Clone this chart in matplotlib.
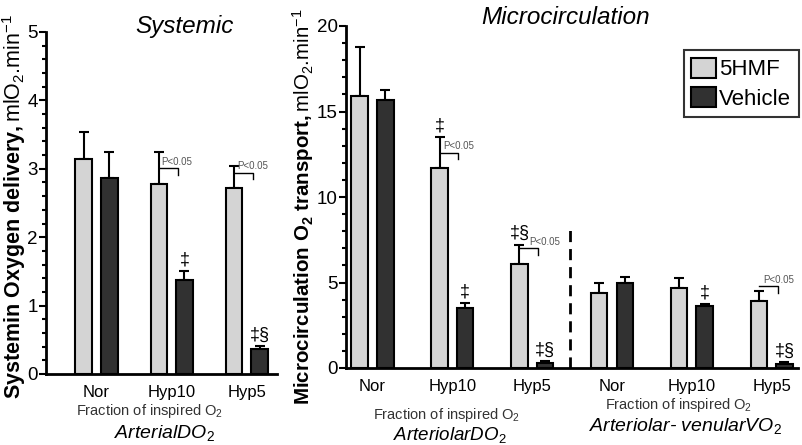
import numpy as np
import matplotlib.pyplot as plt
from matplotlib.patches import Patch
from matplotlib.ticker import MultipleLocator

plt.rcParams['font.family'] = ['Liberation Sans', 'DejaVu Sans']
plt.rcParams['mathtext.fontset'] = 'custom'
plt.rcParams['mathtext.rm'] = 'Liberation Sans'
plt.rcParams['mathtext.it'] = 'Liberation Sans:italic'
plt.rcParams['mathtext.bf'] = 'Liberation Sans:bold'

groups = ['Nor', 'Hyp10', 'Hyp5']

# systemic (arterial DO2)
sys_hmf = [3.15, 2.78, 2.72]
sys_hmf_err = [0.39, 0.47, 0.32]
sys_veh = [2.86, 1.38, 0.37]
sys_veh_err = [0.38, 0.13, 0.04]
sys_marks_hmf = ['', '', '']
sys_marks_veh = ['', '‡', '‡§']
sys_p = [1, 2]

# microcirculation (arteriolar DO2 + arteriolar-venular VO2)
mic_groups = groups + groups
mic_hmf = [15.9, 11.7, 6.1, 4.4, 4.7, 3.9]
mic_hmf_err = [2.9, 1.8, 1.1, 0.6, 0.55, 0.58]
mic_veh = [15.7, 3.5, 0.3, 5.0, 3.6, 0.25]
mic_veh_err = [0.55, 0.3, 0.1, 0.3, 0.15, 0.1]
mic_marks_hmf = ['', '‡', '‡§', '', '', '']
mic_marks_veh = ['', '‡', '‡§', '', '‡', '‡§']
mic_p = [1, 2, 5]

light = '#d4d4d4'
dark = '#313131'

fig = plt.figure(figsize=(8.02, 4.45), dpi=100)
ax1 = fig.add_axes([46/802, 71/445, 231/802, 342/445])
ax2 = fig.add_axes([346/802, 77/445, 452/802, 342/445])


def draw(ax, hmf, hmf_err, veh, veh_err, marks_h, marks_v, pidx, pshift, off, w, ytop):
    x = np.arange(len(hmf))
    ax.bar(x - off, hmf, w, color=light, edgecolor='black', linewidth=1.5, zorder=2)
    ax.bar(x + off, veh, w, color=dark, edgecolor='black', linewidth=1.5, zorder=2)
    ax.errorbar(x - off, hmf, yerr=[np.zeros(len(hmf)), hmf_err], fmt='none',
                ecolor='black', elinewidth=1.5, capsize=3.6, capthick=1.5, zorder=1)
    ax.errorbar(x + off, veh, yerr=[np.zeros(len(veh)), veh_err], fmt='none',
                ecolor='black', elinewidth=1.5, capsize=3.6, capthick=1.5, zorder=1)
    for i in range(len(hmf)):
        if marks_h[i]:
            ax.annotate(marks_h[i], (x[i] - off, hmf[i] + hmf_err[i]), xytext=(0, 8),
                        textcoords='offset points', ha='center', va='center', fontsize=13)
        if marks_v[i]:
            ax.annotate(marks_v[i], (x[i] + off, veh[i] + veh_err[i]), xytext=(0, 8),
                        textcoords='offset points', ha='center', va='center', fontsize=13)
    for i, sh in zip(pidx, pshift):
        yb = hmf[i] + 0.045 * ytop
        x0 = x[i] - off
        x1 = x[i] + off - w * 0.4
        ax.plot([x0, x1, x1], [yb, yb, yb - 0.02 * ytop], color='black', lw=1, zorder=3)
        ax.annotate('P<0.05', (x0, yb), xytext=(sh, 1), textcoords='offset points',
                    fontsize=7, color='#555555', ha='left', va='bottom')
    ax.set_xticks(x)
    ax.tick_params(axis='x', length=0, labelsize=12, pad=8)
    ax.tick_params(axis='y', which='major', direction='out', length=5, width=1.5,
                   labelsize=13.5, pad=1)
    ax.tick_params(axis='y', which='minor', direction='out', length=3, width=1.5)
    for s in ['top', 'right']:
        ax.spines[s].set_visible(False)
    for s in ['left', 'bottom']:
        ax.spines[s].set_linewidth(2)


draw(ax1, sys_hmf, sys_hmf_err, sys_veh, sys_veh_err, sys_marks_hmf, sys_marks_veh,
     sys_p, [2, 2], 0.17, 0.22, 5)
ax1.set_xticklabels(groups)
ax1.set_xlim(-0.671, 2.40)
ax1.set_ylim(0, 5)
ax1.yaxis.set_major_locator(MultipleLocator(1))
ax1.yaxis.set_minor_locator(MultipleLocator(0.2))
ax1.set_ylabel(r'$\mathbf{Systemin\ Oxygen\ delivery,}$mlO$_2$.min$^{-1}$', fontsize=15.5)
ax1.yaxis.set_label_coords(-0.08, 0.49)

draw(ax2, mic_hmf, mic_hmf_err, mic_veh, mic_veh_err, mic_marks_hmf, mic_marks_veh,
     mic_p, [3, 7, 3], 0.16, 0.207, 20)
ax2.set_xticklabels(mic_groups)
ax2.set_xlim(-0.332, 5.33)
ax2.set_ylim(0, 20)
ax2.yaxis.set_major_locator(MultipleLocator(5))
ax2.yaxis.set_minor_locator(MultipleLocator(1))
ax2.set_ylabel(r'$\mathbf{Microcirculation\ O_2\ transport,}$mlO$_2$.min$^{-1}$', fontsize=14.8)
ax2.yaxis.set_label_coords(-0.066, 0.47)
ax2.axvline(2.475, ymin=0, ymax=0.41, color='black', lw=2, ls=(0, (4, 2.5)))

# group captions
t1 = ax1.get_xaxis_transform()
ax1.text(0.71, -0.108, 'Fraction of inspired O$_2$', transform=t1, ha='center', va='center',
         fontsize=10.5, color='#333333')
ax1.text(0.91, -0.172, 'ArterialDO$_2$', style='italic', transform=t1, ha='center',
         va='center', fontsize=14)
t2 = ax2.get_xaxis_transform()
ax2.text(0.93, -0.137, 'Fraction of inspired O$_2$', transform=t2, ha='center', va='center',
         fontsize=10.5, color='#333333')
ax2.text(0.97, -0.195, 'ArteriolarDO$_2$', style='italic', transform=t2, ha='center',
         va='center', fontsize=13.5)
ax2.text(3.84, -0.108, 'Fraction of inspired O$_2$', transform=t2, ha='center', va='center',
         fontsize=10.5, color='#333333')
ax2.text(3.92, -0.17, 'Arteriolar- venularVO$_2$', style='italic', transform=t2,
         ha='center', va='center', fontsize=14)

fig.text(185/802, 1 - 27/445, 'Systemic', style='italic', fontsize=17.5, ha='center', va='center')
fig.text(566/802, 1 - 17/445, 'Microcirculation', style='italic', fontsize=17.5,
         ha='center', va='center')

handles = [Patch(facecolor=light, edgecolor='black', linewidth=1.5, label='5HMF'),
           Patch(facecolor=dark, edgecolor='black', linewidth=1.5, label='Vehicle')]
leg = fig.legend(handles=handles, loc='upper right', bbox_to_anchor=(799/802, 1 - 50/445),
                 fontsize=16, frameon=True, fancybox=False, edgecolor='black',
                 handlelength=1.1, handleheight=1.0, handletextpad=0.15, borderpad=0.35,
                 labelspacing=0.3, borderaxespad=0)
leg.get_frame().set_linewidth(1.5)

fig.savefig('out.png', dpi=100)
